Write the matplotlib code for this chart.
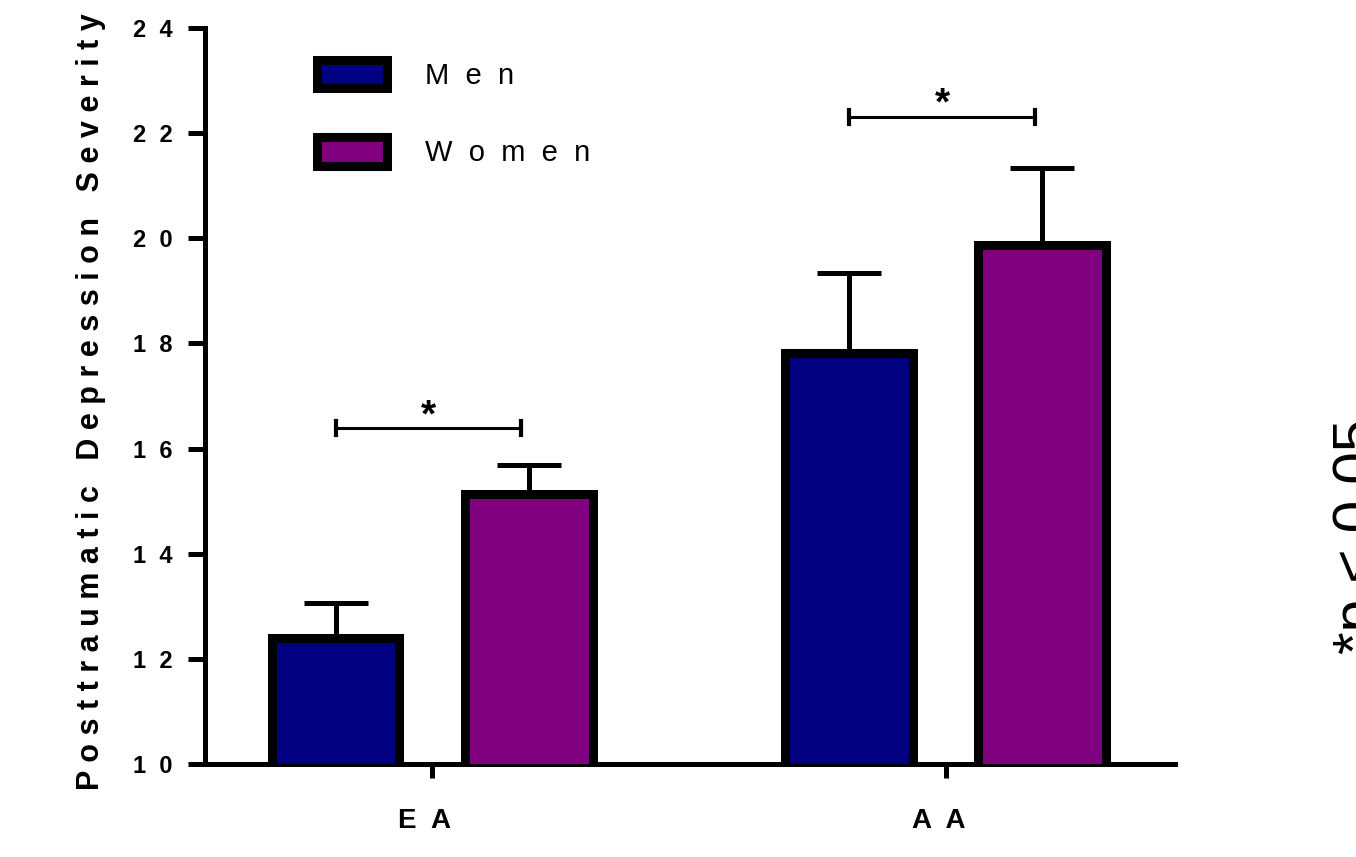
import numpy as np
import matplotlib.pyplot as plt

plt.rcParams['font.family'] = ['Liberation Sans', 'DejaVu Sans']

groups = ['EA', 'AA']
series = ['Men', 'Women']
men_mean = [12.4, 17.82]
men_err = [0.66, 1.52]
women_mean = [15.14, 19.87]
women_err = [0.55, 1.47]
colors = ['#000080', '#800080']
sig_y = [16.39, 22.31]
yticks = [10, 12, 14, 16, 18, 20, 22, 24]


def spaced(s, gap=' '):
    # widen letter spacing the way the original graphics program did
    return '   '.join(gap.join(w) for w in s.split(' '))


fig = plt.figure(figsize=(13.56, 8.57), dpi=100)
ax = fig.add_axes([0.1512, 0.1085, 0.7153, 0.8588])

x = np.arange(len(groups))
off = 0.188
w = 0.249
means = [men_mean, women_mean]
errs = [men_err, women_err]
for i, (m, e) in enumerate(zip(means, errs)):
    xi = x + (2 * i - 1) * off
    ax.errorbar(xi, m, yerr=[np.zeros(len(m)), e], fmt='none', ecolor='black',
                elinewidth=3.6, capsize=23, capthick=3.6, zorder=2)
    ax.bar(xi, m, width=w, bottom=0, color=colors[i], edgecolor='black',
           linewidth=6.5, label=spaced(series[i], '  '), zorder=3)

# significance brackets
for g, ys in zip(x, sig_y):
    x0, x1 = g - 0.188, g + 0.174
    ax.plot([x0, x1], [ys, ys], color='black', lw=2.2, zorder=4)
    ax.plot([x0, x0], [ys - 0.13, ys + 0.13], color='black', lw=3, zorder=4)
    ax.plot([x1, x1], [ys - 0.13, ys + 0.13], color='black', lw=3, zorder=4)
    ax.text((x0 + x1) / 2, ys + 0.04, '*', ha='center', va='baseline',
            fontsize=28, fontweight='bold')

ax.set_xlim(-0.442, 1.446)
ax.set_ylim(10, 24)
ax.set_yticks(yticks)
ax.set_yticklabels([spaced(str(t), '  ') for t in yticks], fontsize=17,
                   fontweight='bold')
ax.set_xticks(x)
ax.set_xticklabels([spaced(g, '  ') + '  ' for g in groups], fontsize=20,
                   fontweight='bold')
ax.tick_params(axis='y', length=12, width=3.6, pad=11.5)
ax.tick_params(axis='x', length=10, width=3.6, pad=22)

for s in ['top', 'right']:
    ax.spines[s].set_visible(False)
for s in ['left', 'bottom']:
    ax.spines[s].set_linewidth(3.6)

ax.set_ylabel(spaced('Posttraumatic Depression Severity'), fontsize=22,
              fontweight='bold')
ax.yaxis.set_label_coords(-0.102, 0.492)

ax.legend(loc='upper left', bbox_to_anchor=(0.1005, 0.977), frameon=False,
          fontsize=21, handlelength=2.4, handleheight=1.15, borderpad=0,
          labelspacing=1.6, handletextpad=1.3)

fig.text(0.982, 0.3745, '*p < 0.05', rotation=90, ha='left', va='center',
         fontsize=42)

fig.savefig('out.png', dpi=100)
